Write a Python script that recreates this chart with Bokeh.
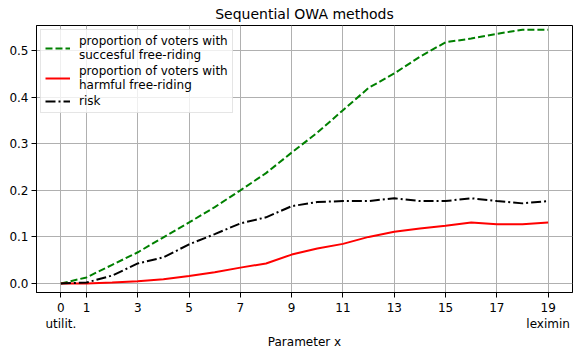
from bokeh.plotting import figure
from bokeh.models import FixedTicker, Range1d, Legend, LegendItem, PrintfTickFormatter
from bokeh.embed import file_html
from bokeh.resources import INLINE

x = list(range(20))
successful = [0.0, 0.013, 0.040, 0.067, 0.099, 0.131, 0.164, 0.200, 0.237, 0.281,
              0.324, 0.372, 0.420, 0.451, 0.487, 0.518, 0.526, 0.536, 0.545, 0.545]
harmful = [0.0, 0.0, 0.002, 0.005, 0.009, 0.016, 0.024, 0.034, 0.043, 0.062,
           0.075, 0.085, 0.100, 0.111, 0.118, 0.124, 0.131, 0.127, 0.127, 0.131]
risk = [0.0, 0.002, 0.017, 0.043, 0.056, 0.084, 0.106, 0.129, 0.142, 0.166,
        0.175, 0.177, 0.177, 0.183, 0.177, 0.177, 0.183, 0.177, 0.172, 0.177]

x_ticks = [0, 1, 3, 5, 7, 9, 11, 13, 15, 17, 19]
x_tick_labels = {0: "0\nutilit.", 19: "19\nleximin"}
y_ticks = [0.0, 0.1, 0.2, 0.3, 0.4, 0.5]

FONT = "DejaVu Sans"

p = figure(width=581, height=352, output_backend="svg", toolbar_location=None,
           title="Sequential OWA methods",
           x_range=Range1d(-0.95, 19.95), y_range=Range1d(-0.0194, 0.554),
           min_border_left=36, min_border_right=9, min_border_bottom=59, min_border_top=0)

p.title.align = "center"
p.title.text_font = FONT
p.title.text_font_size = "14px"
p.title.text_font_style = "normal"
p.title.text_color = "black"
p.title.standoff = 7

r1 = p.line(x, successful, line_color="#008000", line_width=2, line_dash="7 3")
r2 = p.line(x, harmful, line_color="#ff0000", line_width=2)
r3 = p.line(x, risk, line_color="black", line_width=2, line_dash="10 3 2 3")

legend = Legend(items=[
    LegendItem(label="proportion of voters with\nsuccesful free-riding", renderers=[r1]),
    LegendItem(label="proportion of voters with\nharmful free-riding", renderers=[r2]),
    LegendItem(label="risk", renderers=[r3]),
], location="top_left")
legend.label_text_font = FONT
legend.label_text_font_size = "12px"
legend.label_text_color = "black"
legend.label_text_line_height = 1.1
legend.glyph_width = 25
legend.glyph_height = 14
legend.label_height = 12
legend.label_standoff = 9
legend.spacing = 2
legend.padding = 4
legend.margin = 4
legend.border_line_color = "#cccccc"
legend.border_line_width = 1
legend.background_fill_alpha = 0.8
p.add_layout(legend)

p.xaxis.ticker = FixedTicker(ticks=x_ticks)
p.xaxis.major_label_overrides = x_tick_labels
p.xaxis.axis_label = "Parameter x"
p.yaxis.ticker = FixedTicker(ticks=y_ticks)
p.yaxis.formatter = PrintfTickFormatter(format="%.1f")
p.xaxis.minor_tick_line_color = None
p.yaxis.minor_tick_line_color = None

for ax in (p.xaxis, p.yaxis):
    ax.major_label_text_font = FONT
    ax.major_label_text_font_size = "12px"
    ax.major_label_text_color = "black"
    ax.axis_label_text_font = FONT
    ax.axis_label_text_font_size = "12px"
    ax.axis_label_text_font_style = "normal"
    ax.axis_label_text_color = "black"
    ax.axis_line_color = "black"
    ax.major_tick_line_color = "black"
    ax.major_tick_out = 5
    ax.major_tick_in = 0
    ax.major_label_standoff = 3
p.xaxis.axis_label_standoff = 1

p.xgrid.ticker = FixedTicker(ticks=x_ticks)
p.ygrid.ticker = FixedTicker(ticks=y_ticks)
for g in (p.xgrid, p.ygrid):
    g.grid_line_color = "#b0b0b0"
    g.grid_line_width = 1

p.outline_line_color = "black"
p.outline_line_width = 1
p.outline_line_alpha = 1
p.background_fill_color = "white"
p.border_fill_color = "white"

open("out.html", "w").write(file_html(p, INLINE))
